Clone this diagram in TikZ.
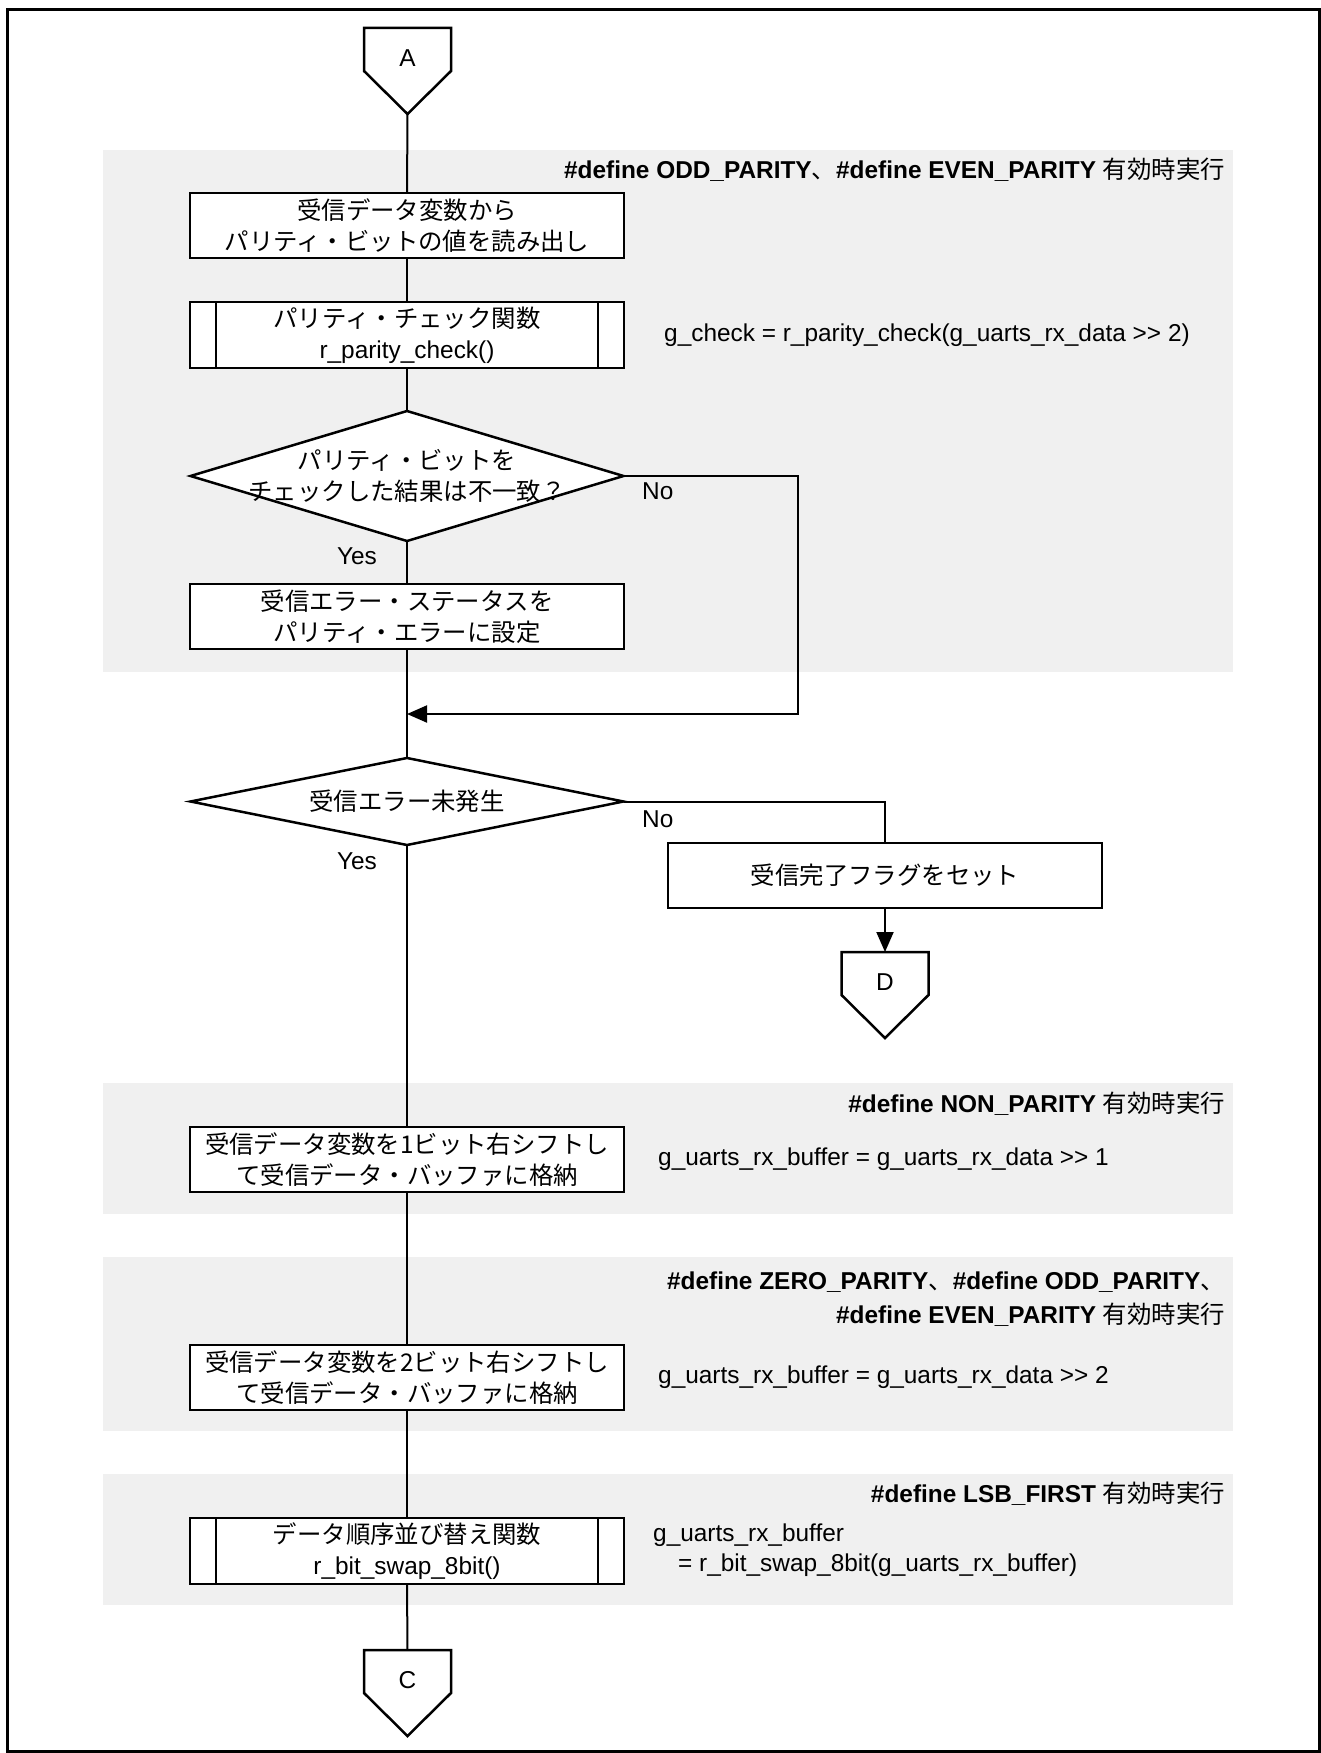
\documentclass[tikz,border=0pt]{standalone}
\usepackage{fontspec}
\setmainfont{Liberation Sans}
\newfontfamily\jp{Noto Sans CJK JP}
\newcommand\jpr{\mdseries\jp}
\usetikzlibrary{shapes.geometric,arrows.meta}
\definecolor{zonegray}{HTML}{F0F0F0}
\newcommand\offpage[4]{%
  \draw[line width=2.5pt, fill=white] (#2-43.5,#3) -- (#2+43.5,#3) -- (#2+43.5,#3+43) -- (#2,#3+86) -- (#2-43.5,#3+43) -- cycle;
  \node[ltxt] (#1) at (#2,#3+32) {#4};
  \coordinate (#1-top) at (#2,#3);
  \coordinate (#1-tip) at (#2,#3+86);
}
\begin{document}
\begin{tikzpicture}[x=1pt,y=-1pt,
  shp/.style={draw, line width=2.5pt, fill=white, inner sep=0pt, outer sep=0pt},
  jtxt/.style={font=\jp\fontsize{24.4}{31}\selectfont},
  box/.style={shp, rectangle, minimum width=434pt, minimum height=65pt, align=center, jtxt},
  dia/.style={shp, diamond, minimum width=433pt},
  ltxt/.style={font=\fontsize{24.4}{31}\selectfont, inner sep=0pt, text height=17.5pt, text depth=5pt},
  ttl/.style={font=\bfseries\fontsize{24.4}{31}\selectfont, inner sep=0pt, text height=17.5pt, text depth=5pt, anchor=east},
  zone/.style={fill=zonegray, draw=none},
  con/.style={line width=2pt},
  arr/.style={line width=2pt, -{Triangle[length=20pt,width=17pt]}}
]
\useasboundingbox (0,0) rectangle (1321,1753);
% shaded zones
\fill[zone] (103,150) rectangle (1233,672);
\fill[zone] (103,1083) rectangle (1233,1214);
\fill[zone] (103,1257) rectangle (1233,1431);
\fill[zone] (103,1474) rectangle (1233,1605);
% outer frame
\draw[line width=3.5pt] (7.5,9.5) rectangle (1319.5,1751.5);

% zone titles
\node[ttl] (t1) at (1225,172) {\#define ODD\_PARITY{\jpr 、}\#define EVEN\_PARITY {\jpr 有効時実行}};
\node[ttl] (t2) at (1225,1106) {\#define NON\_PARITY {\jpr 有効時実行}};
\node[ttl] (t3a) at (1225,1283) {\#define ZERO\_PARITY{\jpr 、}\#define ODD\_PARITY{\jpr 、}};
\node[ttl] (t3b) at (1225,1317) {\#define EVEN\_PARITY {\jpr 有効時実行}};
\node[ttl] (t4) at (1225,1496) {\#define LSB\_FIRST {\jpr 有効時実行}};

% shapes
\node[box] (b1) at (407,225.5) {受信データ変数から\\パリティ・ビットの値を読み出し};
\node[box, minimum height=66pt] (b2) at (407,335) {パリティ・チェック関数\\\rmfamily r\_parity\_check()};
\draw[line width=2.5pt] ([xshift=26pt]b2.north west) -- ([xshift=26pt]b2.south west);
\draw[line width=2.5pt] ([xshift=-26pt]b2.north east) -- ([xshift=-26pt]b2.south east);
\node[dia, minimum height=130pt] (d1) at (407,476) {};
\node[jtxt, align=center, inner sep=0pt] (d1t) at (407,476) {パリティ・ビットを\\チェックした結果は不一致？};
\node[box] (b3) at (407,616.5) {受信エラー・ステータスを\\パリティ・エラーに設定};
\node[dia, minimum height=87pt] (d2) at (407,801.5) {};
\node[jtxt, inner sep=0pt] (d2t) at (407,801.5) {受信エラー未発生};
\node[box] (b4) at (885,875.5) {受信完了フラグをセット};
\node[box] (b5) at (407,1159.5) {受信データ変数を1ビット右シフトし\\て受信データ・バッファに格納};
\node[box] (b6) at (407,1377.5) {受信データ変数を2ビット右シフトし\\て受信データ・バッファに格納};
\node[box, minimum height=66pt] (b7) at (407,1551) {データ順序並び替え関数\\\rmfamily r\_bit\_swap\_8bit()};
\draw[line width=2.5pt] ([xshift=26pt]b7.north west) -- ([xshift=26pt]b7.south west);
\draw[line width=2.5pt] ([xshift=-26pt]b7.north east) -- ([xshift=-26pt]b7.south east);

% off-page connectors
\offpage{A}{407.5}{28}{A}
\offpage{D}{885}{952}{D}
\offpage{C}{407.5}{1650}{C}

% branch labels
\node[ltxt, anchor=west] (no1) at (642,493) {No};
\node[ltxt] (yes1) at (357,558) {Yes};
\node[ltxt, anchor=west] (no2) at (642,821) {No};
\node[ltxt] (yes2) at (357,863) {Yes};

% code annotations
\node[ltxt, anchor=west] (c2) at (664,335) {g\_check = r\_parity\_check(g\_uarts\_rx\_data >{}> 2)};
\node[ltxt, anchor=west] (c5) at (658,1159) {g\_uarts\_rx\_buffer = g\_uarts\_rx\_data >{}> 1};
\node[ltxt, anchor=west] (c6) at (658,1377) {g\_uarts\_rx\_buffer = g\_uarts\_rx\_data >{}> 2};
\node[ltxt, anchor=west] (c7a) at (653,1535) {g\_uarts\_rx\_buffer};
\node[ltxt, anchor=west] (c7b) at (678,1565) {= r\_bit\_swap\_8bit(g\_uarts\_rx\_buffer)};

% connectors
\coordinate (m) at (407,714);
\coordinate (n1) at (798,714);
\draw[con] (A-tip) -- (b1.north);
\draw[con] (b1.south) -- (b2.north);
\draw[con] (b2.south) -- (d1.north);
\draw[con] (d1.south) -- (b3.north);
\draw[con] (b3.south) -- (d2.north);
\draw[arr] (d1.east) -| (n1) -- (m);
\draw[con] (d2.east) -| (b4.north);
\draw[arr] (b4.south) -- (D-top);
\draw[con] (d2.south) -- (b5.north);
\draw[con] (b5.south) -- (b6.north);
\draw[con] (b6.south) -- (b7.north);
\draw[con] (b7.south) -- (C-top);
\end{tikzpicture}
\end{document}
